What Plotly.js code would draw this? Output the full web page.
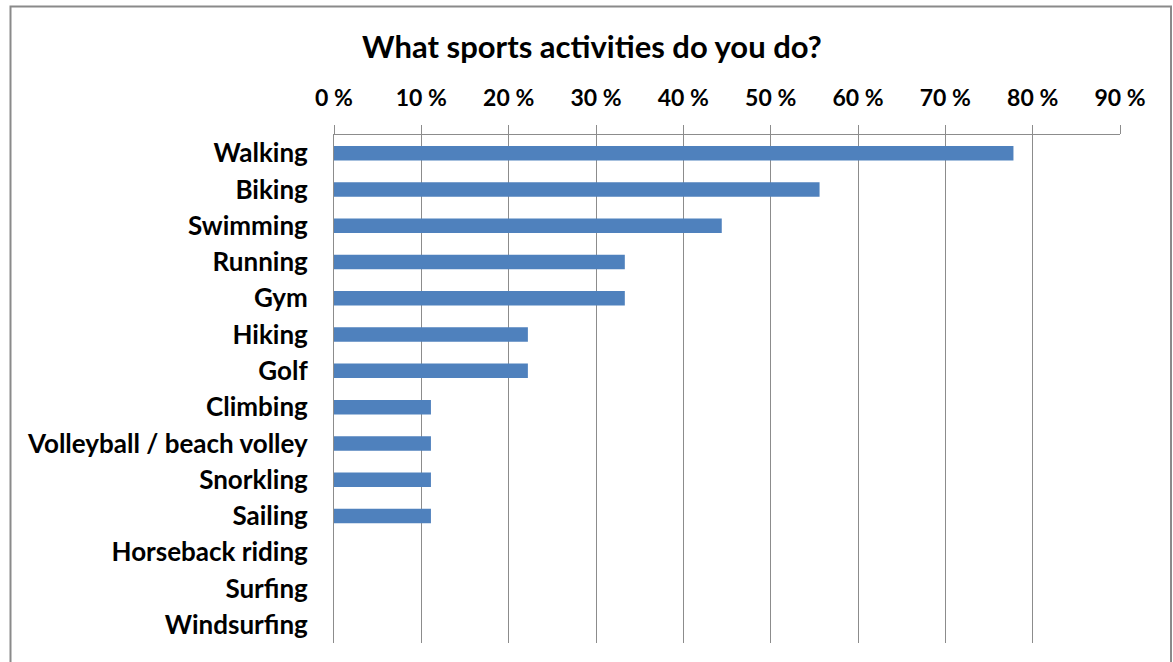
<!DOCTYPE html>
<html>
<head>
<meta charset="utf-8">
<script src="https://cdn.plot.ly/plotly-3.0.1.min.js"></script>
<style>html,body{margin:0;padding:0;background:#fff;}#chart{width:1173px;height:662px;}</style>
</head>
<body>
<div id="chart"></div>
<script>
const categories = ["Walking","Biking","Swimming","Running","Gym","Hiking","Golf","Climbing","Volleyball / beach volley","Snorkling","Sailing","Horseback riding","Surfing","Windsurfing"];
const shares = [0.778,0.556,0.444,0.333,0.333,0.222,0.222,0.111,0.111,0.111,0.111,0,0,0];
const tickValues = [0,0.1,0.2,0.3,0.4,0.5,0.6,0.7,0.8,0.9];
const tickLabels = ["0 %","10 %","20 %","30 %","40 %","50 %","60 %","70 %","80 %","90 %"];
const chartTitle = "What sports activities do you do?";

const W = 1173, H = 662;
const L = 334, R = 1120, T = 135, B = 643;
const pw = R - L, ph = B - T;
const px = x => (x - L) / pw;
const py = y => (B - y) / ph;

const font = "Lato, 'Open Sans', 'DejaVu Sans', sans-serif";

Plotly.newPlot('chart', [{
  type: 'bar',
  orientation: 'h',
  y: categories,
  x: shares,
  width: 0.4,
  marker: {color: '#4F81BD', line: {width: 0}},
  hoverinfo: 'y+x'
}], {
  width: W, height: H,
  margin: {l: L, r: W - R, t: T, b: H - B, pad: 0},
  paper_bgcolor: '#fff', plot_bgcolor: '#fff',
  showlegend: false,
  title: {text: '<b>' + chartTitle + '</b>', x: 592 / W, xref: 'container', xanchor: 'center',
          y: 1 - 47 / H, yref: 'container', yanchor: 'middle',
          font: {family: font, size: 31, color: '#000'}},
  xaxis: {
    side: 'top', range: [0, 0.9], tickvals: tickValues, ticktext: tickLabels,
    showgrid: true, gridcolor: '#8c8c8c', gridwidth: 1,
    showline: true, linecolor: '#8c8c8c', linewidth: 1,
    ticks: 'outside', ticklen: 9, tickcolor: '#8c8c8c', tickwidth: 1,
    tickfont: {family: font, size: 23, color: '#000', weight: 'bold'},
    ticklabelstandoff: 10,
    zeroline: false, fixedrange: true
  },
  yaxis: {
    autorange: 'reversed', type: 'category',
    showline: true, linecolor: '#8c8c8c', linewidth: 1,
    ticks: '', showgrid: false,
    tickfont: {family: font, size: 26, color: '#000', weight: 'bold'},
    ticklabelstandoff: 20, fixedrange: true
  },
  shapes: [{
    type: 'rect', xref: 'paper', yref: 'paper',
    x0: px(10.5), x1: px(1171), y0: py(670), y1: py(6.5),
    line: {color: '#8a8a8a', width: 2}, fillcolor: 'rgba(0,0,0,0)', layer: 'below'
  }]
}, {displayModeBar: false, staticPlot: true});
</script>
</body>
</html>
